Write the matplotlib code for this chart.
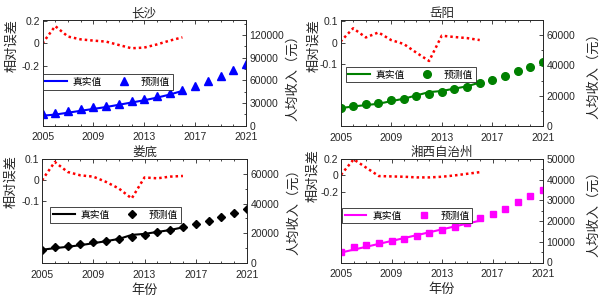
import numpy as np
import matplotlib
matplotlib.use("Agg")
import matplotlib.pyplot as plt
from matplotlib.ticker import MultipleLocator, AutoMinorLocator, FixedLocator

plt.rcParams['font.family'] = ['Liberation Sans', 'Noto Sans CJK SC']
plt.rcParams['axes.unicode_minus'] = False

# 年份
years_pred = list(range(2005, 2022))
years_real = list(range(2005, 2017))
year_ticks = [2005, 2009, 2013, 2017, 2021]

# 长沙
cs_real = [13000, 14500, 17000, 19500, 22000, 24500, 27500, 30500, 33500, 37000, 41000, 46000]
cs_pred = [15400, 16700, 19800, 22000, 24200, 26400, 29000, 32100, 35200, 38700, 42600, 47500,
           52800, 59300, 65500, 73000, 81800]
cs_err = [0.0, 0.153, 0.06, 0.035, 0.024, 0.015, -0.015, -0.044, -0.038, -0.01, 0.024, 0.053]

# 岳阳
yy_real = [11800, 12900, 13800, 14700, 16400, 18000, 20200, 22400, 23100, 24700, 26200, 28700]
yy_pred = [11800, 13300, 14200, 15300, 16900, 18000, 19600, 21100, 22700, 24200, 26000, 28400,
           30700, 33300, 36200, 39100, 42200]
yy_err = [0.005, 0.066, 0.024, 0.047, 0.012, -0.006, -0.046, -0.084, 0.032, 0.026, 0.021, 0.012]

# 娄底
ld_real = [8900, 10000, 10900, 12000, 13300, 14700, 16200, 18900, 19600, 20900, 22200, 24000]
ld_pred = [8900, 10700, 11600, 12700, 13800, 14900, 16000, 17300, 19100, 20700, 22200, 24000,
           26000, 28400, 31100, 33600, 36200]
ld_err = [0.0, 0.086, 0.039, 0.023, 0.017, -0.008, -0.039, -0.086, 0.013, 0.009, 0.017, 0.02]

# 湘西自治州
xx_real = [4800, 6200, 7600, 9000, 10400, 11800, 13200, 14600, 16000, 17400, 18800, 20200]
xx_pred = [5200, 7600, 8500, 9500, 10500, 11500, 12700, 14200, 15600, 17100, 19000, 21300,
           23500, 26000, 29000, 32100, 35200]
xx_err = [0.008, 0.196, 0.094, -0.008, -0.012, -0.016, -0.024, -0.024, -0.016, 0.0, 0.02, 0.04]

TXT = '#262626'

panels = [
    # title, real, pred, err, color, marker, msize, axes rect (px), err ylim, err ticks, inc ylim, inc step, legend pos, ylabel pos
    ('长沙', cs_real, cs_pred, cs_err, '#0000ff', '^', 5.8, (42.5, 20, 246, 125.5),
     (-0.73, 0.207), [-0.2, 0, 0.2], (0, 140000), 30000, (0.0, 0.49), (-0.12, 0.76), (1.2, 0.48)),
    ('岳阳', yy_real, yy_pred, yy_err, '#008000', 'o', 5.5, (340.5, 20, 543, 126),
     (-0.382, 0.104), [-0.1, 0, 0.1], (0, 70000), 20000, (0.025, 0.56), (-0.1, 0.76), (1.22, 0.5)),
    ('娄底', ld_real, ld_pred, ld_err, '#000000', 'D', 4.5, (42, 159, 247, 263),
     (-0.39, 0.1), [-0.1, 0, 0.1], (0, 70000), 20000, (0.04, 0.54), (-0.12, 0.78), (1.2, 0.52)),
    ('湘西自治州', xx_real, xx_pred, xx_err, '#ff00ff', 's', 4.5, (341, 159, 543, 262.5),
     (-1.06, 0.2), [-0.2, 0, 0.2], (0, 50000), 10000, (0.005, 0.53), (-0.11, 0.84), (1.22, 0.5)),
]

W, H = 604, 304
fig = plt.figure(figsize=(W / 100, H / 100), dpi=100)

for i, (title, real, pred, err, col, mk, ms, rect, elim, eticks, ilim, istep, lpos, ylpos, yrpos) in enumerate(panels):
    x0, y0, x1, y1 = rect
    ax = fig.add_axes([x0 / W, 1 - y1 / H, (x1 - x0) / W, (y1 - y0) / H])
    ax.plot(years_real, err, color='#ff0000', linestyle=(0, (1, 1.2)), lw=1.8)
    ax.set_xlim(2005, 2021)
    ax.set_ylim(*elim)
    ax.set_yticks(eticks)
    ax.set_yticklabels([('%g' % t) for t in eticks])
    ax.xaxis.set_major_locator(FixedLocator(year_ticks))
    ax.xaxis.set_minor_locator(MultipleLocator(1))
    ax.tick_params(axis='both', which='both', direction='in', colors=TXT, labelsize=7.5,
                   top=True, width=0.6)
    ax.tick_params(axis='both', which='major', length=3)
    ax.tick_params(axis='both', which='minor', length=1.5)
    ax.tick_params(axis='x', pad=5)
    ax.tick_params(axis='y', pad=2, right=False)
    ax.set_title(title, fontsize=9, color=TXT, pad=2)
    ax.set_ylabel('相对误差', fontsize=9.5, color=TXT)
    ax.yaxis.set_label_coords(*ylpos)
    if i >= 2:
        ax.set_xlabel('年份', fontsize=9.5, color=TXT, labelpad=3)
    for s in ax.spines.values():
        s.set_color(TXT)
        s.set_linewidth(0.6)

    ax2 = ax.twinx()
    ax2.plot(years_real, real, color=col, lw=1.5, label='真实值')
    ax2.plot(years_pred, pred, linestyle='none', marker=mk, color=col, ms=ms, label='预测值')
    ax2.set_ylim(*ilim)
    ax2.yaxis.set_major_locator(MultipleLocator(istep))
    ax2.yaxis.set_minor_locator(AutoMinorLocator(2))
    ax2.tick_params(axis='y', which='both', direction='in', colors=TXT, labelsize=7.5,
                    pad=2.5, width=0.6)
    ax2.tick_params(axis='y', which='major', length=3)
    ax2.tick_params(axis='y', which='minor', length=1.5)
    ax2.set_ylabel('人均收入（元）', fontsize=9.5, color=TXT)
    ax2.yaxis.set_label_coords(*yrpos)
    for s in ax2.spines.values():
        s.set_color(TXT)
        s.set_linewidth(0.6)

    leg = ax2.legend(loc='upper left', bbox_to_anchor=lpos, ncol=2,
                     frameon=True, fancybox=False, framealpha=1, edgecolor=TXT,
                     borderaxespad=0, borderpad=0.3, handlelength=2.2,
                     handletextpad=0.6, columnspacing=1.2,
                     prop={'family': ['Noto Sans CJK SC'], 'size': 7})
    leg.get_frame().set_linewidth(0.6)

fig.savefig('out.png', dpi=100)
